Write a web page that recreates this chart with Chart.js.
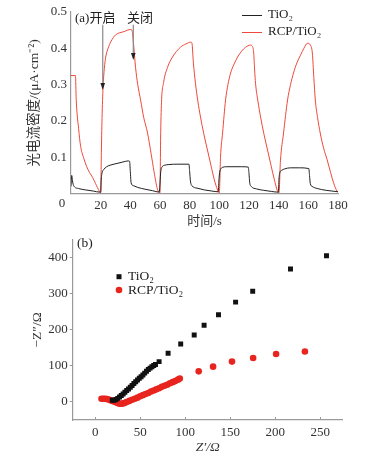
<!DOCTYPE html>
<html><head><meta charset="utf-8">
<script src="https://cdn.jsdelivr.net/npm/chart.js@4.4.0/dist/chart.umd.min.js"></script>
<style>
html,body{margin:0;padding:0;background:#fff;width:385px;height:458px;overflow:hidden}
#c1{position:absolute;left:0;top:0}
#c2{position:absolute;left:0;top:230px}
</style></head><body>
<canvas id="c1" width="385" height="230"></canvas>
<canvas id="c2" width="385" height="228"></canvas>
<script>
// ---------- data: (a) photocurrent vs time ----------
const timeTicks = [0,20,40,60,80,100,120,140,160,180];
const currentTicks = [0.1,0.2,0.3,0.4,0.5];
const tio2Curve = [[0,0.02],[0.5,0.05],[1,0.035],[1.5,0.025],[2.5,0.018],[5,0.014],[10,0.01],[15,0.007],[19.5,0.004],[20,0.004],[20.4,0.04],[21,0.058],[22,0.066],[24,0.074],[27,0.079],[31,0.083],[35,0.087],[38.5,0.09],[39.5,0.089],[40,0.06],[40.5,0.03],[42,0.022],[45,0.017],[50,0.012],[55,0.008],[59.5,0.004],[60,0.03],[60.5,0.06],[61.5,0.074],[63,0.078],[66,0.08],[72,0.081],[79.5,0.081],[80,0.06],[80.5,0.035],[81.5,0.022],[85,0.015],[90,0.01],[95,0.007],[99.3,0.005],[99.7,0.035],[100.2,0.058],[101,0.068],[102,0.072],[105,0.074],[115,0.074],[119.5,0.073],[120,0.055],[120.5,0.03],[121.5,0.02],[125,0.013],[130,0.009],[135,0.006],[139.8,0.004],[140.2,0.04],[140.8,0.058],[142,0.064],[144,0.068],[148,0.071],[154,0.071],[160.3,0.069],[160.8,0.05],[161.3,0.028],[162.5,0.02],[166,0.014],[172,0.009],[178,0.006],[180,0.005]];
const rcpCurve = [[0,0.325],[3,0.325],[3.5,0.26],[5.1,0.18],[6.5,0.13],[8.4,0.10],[10.5,0.075],[12.5,0.058],[14.5,0.045],[16.5,0.028],[19.2,0.006],[20,0.002],[20.5,0.12],[21,0.22],[21.7,0.30],[22.5,0.345],[23.4,0.376],[25,0.40],[26.8,0.418],[30.1,0.437],[35.7,0.446],[40.3,0.452],[41.2,0.448],[42,0.42],[43.5,0.348],[45,0.30],[46.9,0.258],[49,0.21],[51.6,0.167],[54,0.11],[56,0.06],[58.3,0.012],[60,0.002],[60.4,0.15],[61,0.25],[62.4,0.305],[65.1,0.348],[68.4,0.376],[73.8,0.403],[77.5,0.412],[80.6,0.417],[81.5,0.415],[82.5,0.36],[83.9,0.304],[85.5,0.255],[87.3,0.211],[89.5,0.165],[92,0.12],[94.5,0.075],[96.5,0.04],[98.8,0.01],[100,0.002],[100.8,0.1],[102.2,0.167],[104.2,0.258],[105.8,0.30],[107.6,0.332],[110,0.357],[112.3,0.376],[115,0.392],[117.7,0.403],[121,0.409],[122.3,0.405],[123.1,0.39],[123.8,0.34],[124.4,0.304],[126,0.255],[127.8,0.211],[130,0.165],[132.5,0.12],[135,0.075],[137,0.04],[139.3,0.006],[140.2,0.002],[141.2,0.09],[143.3,0.167],[146,0.258],[148,0.30],[150,0.332],[152.3,0.36],[154.7,0.381],[157,0.40],[159.4,0.414],[160.5,0.413],[161.4,0.409],[162.7,0.387],[163.7,0.32],[164.7,0.258],[166.2,0.21],[168,0.167],[170.3,0.125],[172.7,0.093],[175,0.058],[177,0.03],[179.4,0.006],[180,0.004]];
const switchMarks = [{text:'(a)开启', t:21.4, from:0.465, to:0.285},{text:'关闭', t:42, from:0.465, to:0.368}];

// ---------- data: (b) Nyquist ----------
const zReTicks = [0,50,100,150,200,250];
const zImTicks = [0,100,200,300,400];
const tio2Nyquist = [[19,5],[21,5],[23,7],[25,10],[27,14],[29,18],[31,22],[33,27],[35,32],[37,36],[39,41],[41,46],[43,51],[45,56],[47,61],[49,66],[51,70],[53,75],[55,80],[57,85],[59,90],[61,94],[63,98],[65,101],[67,104],[71,112],[81,135],[95,161],[110,186],[121,213],[137,242],[156,277],[175,307],[217,369],[257,406]];
const rcpNyquist = [[7,9],[9,9],[11,9],[13,8],[15,7],[17,5],[19,3],[21,1],[23,-1],[25,-3],[27,-5],[29,-5],[31,-4],[33,-2],[35,0],[38,3],[41,6],[44,9],[47,12],[50,16],[53,19],[56,22],[59,25],[62,29],[65,32],[68,35],[71,38],[74,42],[77,45],[80,48],[83,52],[86,55],[89,58],[92,62],[94,65],[115,85],[131,98],[152,112],[175.5,122],[201,133],[233,140]];

const SERIF = '"Liberation Serif","Times New Roman","Noto Sans CJK SC",serif';
const AXIS = '#9a9a9a', TXT = '#333';
const toXY = arr => arr.map(p => ({x:p[0], y:p[1]}));
const setTicks = list => s => { s.ticks = list.map(v => ({value:v})); };

const annotA = {
  id:'annotA',
  afterDraw(chart){
    const {ctx, scales:{x, y}} = chart;
    ctx.save();
    ctx.font = '13px ' + SERIF; ctx.fillStyle = '#222';
    ctx.textBaseline = 'middle'; ctx.textAlign = 'left';
    ctx.fillText(switchMarks[0].text, 75, 19);
    ctx.fillText(switchMarks[1].text, 127, 19);
    switchMarks.forEach(m => {
      const px = x.getPixelForValue(m.t), y0 = y.getPixelForValue(m.from), y1 = y.getPixelForValue(m.to);
      ctx.strokeStyle = '#8a8a8a'; ctx.lineWidth = 1.2;
      ctx.beginPath(); ctx.moveTo(px, y0); ctx.lineTo(px, y1 - 5); ctx.stroke();
      ctx.fillStyle = '#222';
      ctx.beginPath(); ctx.moveTo(px, y1); ctx.lineTo(px - 2.3, y1 - 7); ctx.lineTo(px + 2.3, y1 - 7); ctx.closePath(); ctx.fill();
    });
    // legend
    ctx.lineWidth = 1;
    ctx.strokeStyle = '#222'; ctx.beginPath(); ctx.moveTo(242, 15.5); ctx.lineTo(262, 15.5); ctx.stroke();
    ctx.strokeStyle = '#f0483a'; ctx.beginPath(); ctx.moveTo(242, 32.5); ctx.lineTo(262, 32.5); ctx.stroke();
    ctx.fillStyle = '#222';
    ctx.fillText('TiO₂', 268, 15);
    ctx.fillText('RCP/TiO₂', 268, 32);
    // shared origin label
    ctx.textAlign = 'center'; ctx.fillStyle = TXT;
    ctx.fillText('0', 62, 204);
    ctx.restore();
  }
};

new Chart(document.getElementById('c1'), {
  type:'line',
  data:{datasets:[
    {label:'TiO₂', data:toXY(tio2Curve), borderColor:'#222', borderWidth:1, pointRadius:0, cubicInterpolationMode:'monotone'},
    {label:'RCP/TiO₂', data:toXY(rcpCurve), borderColor:'#f0483a', borderWidth:1, pointRadius:0, cubicInterpolationMode:'monotone'}
  ]},
  options:{
    responsive:false, animation:false, devicePixelRatio:1,
    layout:{padding:{left:0, right:47, top:12, bottom:0}},
    plugins:{legend:{display:false}, tooltip:{enabled:false}},
    scales:{
      x:{type:'linear', min:0, max:180, afterBuildTicks:setTicks(timeTicks), afterFit:s=>{s.height=36.4;},
         grid:{display:false, drawTicks:false}, border:{color:AXIS, width:1.2},
         ticks:{padding:4, font:{family:SERIF, size:13}, color:TXT, maxRotation:0, autoSkip:false, callback:v => v === 0 ? '' : String(v)},
         title:{display:true, text:'时间/s', font:{family:SERIF, size:13}, color:TXT, padding:{top:0, bottom:1}}},
      y:{type:'linear', min:0, max:0.5, afterBuildTicks:setTicks(currentTicks), afterFit:s=>{s.width=71;},
         grid:{display:false, drawTicks:false}, border:{color:AXIS, width:1.2},
         ticks:{padding:4, font:{family:SERIF, size:13}, color:TXT, callback:v => String(v)},
         title:{display:true, text:'光电流密度/(μA·cm⁻²)', font:{family:SERIF, size:13.5}, color:TXT, padding:{top:26, bottom:0}}}
    }
  },
  plugins:[annotA]
});

const annotB = {
  id:'annotB',
  afterDraw(chart){
    const {ctx, scales:{x, y}} = chart;
    ctx.save();
    // inward x ticks
    ctx.strokeStyle = AXIS; ctx.lineWidth = 1;
    zReTicks.forEach(v => { const px = Math.round(x.getPixelForValue(v)) + 0.5; ctx.beginPath(); ctx.moveTo(px, y.bottom); ctx.lineTo(px, y.bottom - 3); ctx.stroke(); });
    ctx.font = '13.5px ' + SERIF; ctx.textBaseline = 'middle'; ctx.textAlign = 'left'; ctx.fillStyle = '#222';
    ctx.fillText('(b)', 77, 13);
    ctx.fillStyle = '#111'; ctx.fillRect(116.5, 44.2, 5, 5);
    ctx.fillStyle = '#e8241f'; ctx.beginPath(); ctx.arc(119, 60, 3.3, 0, Math.PI * 2); ctx.fill();
    ctx.fillStyle = '#222';
    ctx.fillText('TiO₂', 128, 46.5);
    ctx.fillText('RCP/TiO₂', 128, 60);
    ctx.restore();
  }
};

new Chart(document.getElementById('c2'), {
  type:'scatter',
  data:{datasets:[
    {label:'TiO₂', data:toXY(tio2Nyquist), pointStyle:'rect', pointRadius:3.5, backgroundColor:'#111', borderWidth:0},
    {label:'RCP/TiO₂', data:toXY(rcpNyquist), pointStyle:'circle', pointRadius:3.3, backgroundColor:'#e8241f', borderWidth:0}
  ]},
  options:{
    responsive:false, animation:false, devicePixelRatio:1,
    layout:{padding:{left:0, right:42.3, top:5, bottom:0}},
    plugins:{legend:{display:false}, tooltip:{enabled:false}},
    scales:{
      x:{type:'linear', min:-25, max:275, afterBuildTicks:setTicks(zReTicks), afterFit:s=>{s.height=38;},
         grid:{display:false, drawTicks:false}, border:{color:AXIS, width:1.2},
         ticks:{padding:5, font:{family:SERIF, size:13}, color:TXT, maxRotation:0, autoSkip:false},
         title:{display:true, text:"Z′/Ω", font:{family:SERIF, size:13.5, style:'italic'}, color:TXT, padding:{top:0, bottom:2}}},
      y:{type:'linear', min:-50, max:450, afterBuildTicks:setTicks(zImTicks), afterFit:s=>{s.width=72.7;},
         grid:{display:true, drawOnChartArea:false, drawTicks:true, tickLength:3, color:AXIS}, border:{color:AXIS, width:1.2},
         ticks:{padding:2, font:{family:SERIF, size:13}, color:TXT},
         title:{display:true, text:"−Z″/Ω", font:{family:SERIF, size:13.5}, color:TXT, padding:{top:29, bottom:0}}}
    }
  },
  plugins:[annotB]
});
</script>
</body></html>
